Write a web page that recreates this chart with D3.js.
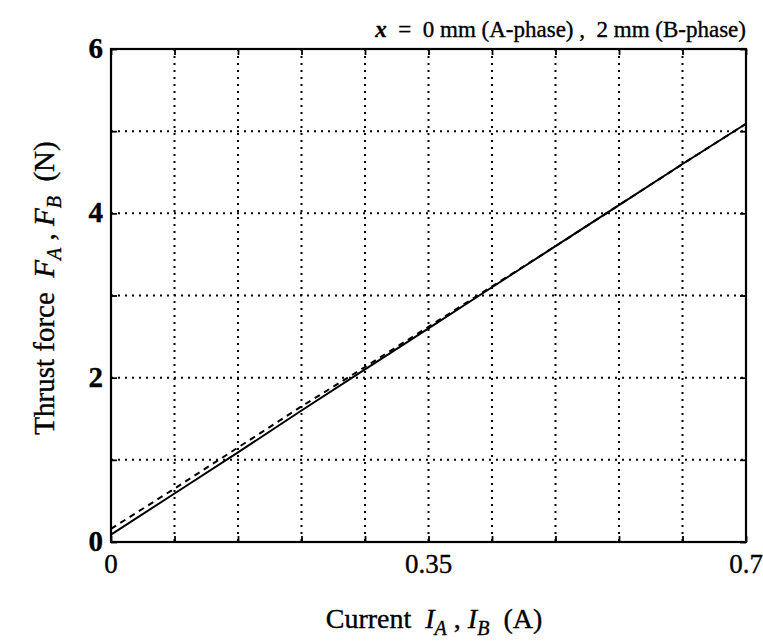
<!DOCTYPE html>
<html>
<head>
<meta charset="utf-8">
<script src="https://cdn.jsdelivr.net/npm/d3@7"></script>
<style>
  body { margin: 0; background: #fff; }
  svg { font-family: "Liberation Serif", "DejaVu Serif", serif; }
  text { fill: #000; stroke: #000; stroke-width: 0.35; white-space: pre; }
  .frame { fill: none; stroke: #000; stroke-width: 2.2; }
  .grid line { stroke: #000; stroke-width: 2; stroke-dasharray: 2,5; }
  .axis path { display: none; }
  .axis line { stroke: #000; stroke-width: 1.8; }
</style>
</head>
<body>
<svg id="chart"></svg>
<script>
// current (A)
const current = [0, 0.07, 0.14, 0.21, 0.28, 0.35, 0.42, 0.49, 0.56, 0.63, 0.7];
// thrust force (N), solid = A-phase, dashed = B-phase
const forceA = [0.09, 0.59, 1.09, 1.60, 2.10, 2.60, 3.10, 3.60, 4.10, 4.60, 5.09];
const forceB = [0.16, 0.65, 1.15, 1.65, 2.13, 2.62, 3.11, 3.60, 4.10, 4.60, 5.09];
const xTicks = [0, 0.35, 0.7];
const yTicks = [0, 2, 4, 6];
const xGrid = [0.07, 0.14, 0.21, 0.28, 0.35, 0.42, 0.49, 0.56, 0.63];
const yGrid = [1, 2, 3, 4, 5];

const W = 763, H = 642;
const margin = { top: 49, right: 17, bottom: 100, left: 111 };
const width = W - margin.left - margin.right;
const height = H - margin.top - margin.bottom;

const svg = d3.select('#chart').attr('width', W).attr('height', H);
const chart = svg.append('g').attr('transform', `translate(${margin.left},${margin.top})`);

const x = d3.scaleLinear().domain([0, 0.7]).range([0, width]);
const y = d3.scaleLinear().domain([0, 6]).range([height, 0]);

// dotted grid
const grid = chart.append('g').attr('class', 'grid');
grid.selectAll('.vg').data(xGrid).enter().append('line')
  .attr('x1', d => x(d)).attr('x2', d => x(d))
  .attr('y1', 0).attr('y2', height);
grid.selectAll('.hg').data(yGrid).enter().append('line')
  .attr('x1', 0).attr('x2', width)
  .attr('y1', d => y(d)).attr('y2', d => y(d));

// inward ticks on all four sides
const allX = [0].concat(xGrid, [0.7]);
const allY = [0].concat(yGrid, [6]);
chart.append('g').attr('class', 'axis')
  .attr('transform', `translate(0,${height})`)
  .call(d3.axisBottom(x).tickValues(allX).tickSize(-6).tickFormat(''));
chart.append('g').attr('class', 'axis')
  .call(d3.axisTop(x).tickValues(allX).tickSize(-6).tickFormat(''));
chart.append('g').attr('class', 'axis')
  .call(d3.axisLeft(y).tickValues(allY).tickSize(-6).tickFormat(''));
chart.append('g').attr('class', 'axis')
  .attr('transform', `translate(${width},0)`)
  .call(d3.axisRight(y).tickValues(allY).tickSize(-6).tickFormat(''));

// lines
const pts = (ys) => current.map((c, i) => [c, ys[i]]);
const line = d3.line().x(d => x(d[0])).y(d => y(d[1]));
chart.append('path').datum(pts(forceB))
  .attr('d', line).attr('fill', 'none').attr('stroke', '#000')
  .attr('stroke-width', 2).attr('stroke-dasharray', '6,5');
chart.append('path').datum(pts(forceA))
  .attr('d', line).attr('fill', 'none').attr('stroke', '#000')
  .attr('stroke-width', 2);

// frame
chart.append('rect').attr('class', 'frame')
  .attr('x', 0).attr('y', 0).attr('width', width).attr('height', height);

// tick labels
chart.selectAll('.xl').data(xTicks).enter().append('text')
  .attr('x', d => x(d))
  .attr('y', height + 31)
  .attr('text-anchor', 'middle')
  .style('font-size', '27px')
  .text(d => d);
chart.selectAll('.yl').data(yTicks).enter().append('text')
  .attr('x', -8)
  .attr('y', d => y(d) + 9)
  .attr('text-anchor', 'end')
  .style('font-size', '29px')
  .style('font-weight', 'bold')
  .text(d => d);

// title
const title = svg.append('text')
  .attr('x', margin.left + width)
  .attr('y', 37)
  .attr('text-anchor', 'end')
  .style('font-size', '23px');
title.append('tspan').style('font-style', 'italic').style('font-weight', 'bold').text('x');
title.append('tspan').text('  =  0 mm (A-phase) ,  2 mm (B-phase)');

// x label
const xl = svg.append('text')
  .attr('x', 434)
  .attr('y', 628)
  .attr('text-anchor', 'middle')
  .style('font-size', '28px');
xl.append('tspan').text('Current  ');
xl.append('tspan').style('font-style', 'italic').text('I');
xl.append('tspan').style('font-style', 'italic').style('font-size', '20px').attr('dy', 7).text('A');
xl.append('tspan').attr('dy', -7).text(' , ');
xl.append('tspan').style('font-style', 'italic').text('I');
xl.append('tspan').style('font-style', 'italic').style('font-size', '20px').attr('dy', 7).text('B');
xl.append('tspan').attr('dy', -7).text('  (A)');

// y label
const yl = svg.append('text')
  .attr('transform', `translate(54,288) rotate(-90)`)
  .attr('text-anchor', 'middle')
  .style('font-size', '29px');
yl.append('tspan').text('Thrust force  ');
yl.append('tspan').style('font-style', 'italic').text('F');
yl.append('tspan').style('font-style', 'italic').style('font-size', '20px').attr('dy', 7).text('A');
yl.append('tspan').attr('dy', -7).text(' , ');
yl.append('tspan').style('font-style', 'italic').text('F');
yl.append('tspan').style('font-style', 'italic').style('font-size', '20px').attr('dy', 7).text('B');
yl.append('tspan').attr('dy', -7).text('  (N)');
</script>
</body>
</html>
